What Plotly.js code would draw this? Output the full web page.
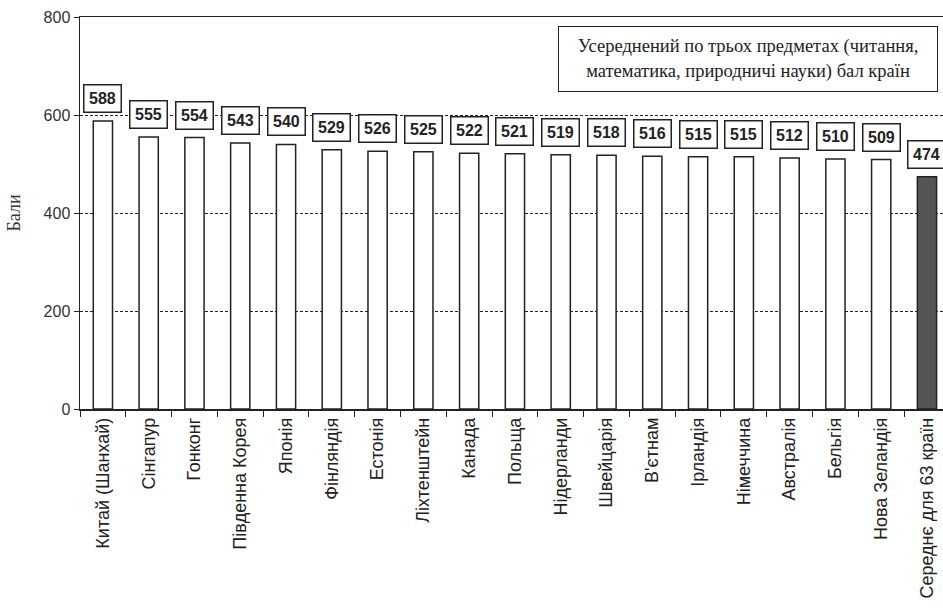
<!DOCTYPE html>
<html><head><meta charset="utf-8">
<script src="https://cdn.plot.ly/plotly-3.0.1.min.js"></script>
<style>html,body{margin:0;padding:0;background:#fff}#chart{width:943px;height:612px}</style>
</head><body><div id="chart"></div>
<script>
const categories = ["Китай (Шанхай)","Сінгапур","Гонконг","Південна Корея","Японія","Фінляндія","Естонія","Ліхтенштейн","Канада","Польща","Нідерланди","Швейцарія","В'єтнам","Ірландія","Німеччина","Австралія","Бельгія","Нова Зеландія","Середнє для 63 країн"];
const scores = [588,555,554,543,540,529,526,525,522,521,519,518,516,515,515,512,510,509,474];
const yTicks = [0,200,400,600,800];
const legendText = "Усереднений по трьох предметах (читання,<br>математика, природничі науки) бал країн";

const colors = scores.map((v,i)=> i===scores.length-1 ? "#555555" : "#ffffff");

const trace = {
  type: "bar",
  x: categories,
  y: scores,
  width: 0.42,
  marker: {color: colors, line: {color: "#222", width: 1.5}},
  hoverinfo: "skip"
};

const annotations = categories.map((c,i)=>({
  x: c, y: scores[i], xref: "x", yref: "y",
  text: "<b>" + scores[i] + "</b>",
  showarrow: false, yanchor: "bottom", yshift: 8,
  font: {family: "Liberation Sans, Arial, sans-serif", size: 16, color: "#222"},
  bgcolor: "#ffffff", bordercolor: "#222", borderwidth: 1.5, borderpad: 4.5
}));
annotations.push({
  xref: "paper", yref: "paper", x: 0.994, y: 0.977, xanchor: "right", yanchor: "top",
  text: legendText, showarrow: false, align: "center",
  width: 366, height: 52,
  font: {family: "Liberation Serif, Times New Roman, serif", size: 18.5, color: "#222"},
  bgcolor: "#ffffff", bordercolor: "#222", borderwidth: 1, borderpad: 6
});

const layout = {
  width: 943, height: 612,
  margin: {l: 80, r: 0, t: 17, b: 203},
  paper_bgcolor: "#fff", plot_bgcolor: "#fff",
  showlegend: false,
  xaxis: {
    type: "category", range: [-0.5, 18.35], automargin: false,
    showline: true, linecolor: "#222", linewidth: 1.5, mirror: true,
    ticks: "outside", tickson: "boundaries", ticklen: 6, tickcolor: "#222", tickwidth: 1,
    tickangle: -90, showgrid: false,
    tickfont: {family: "Liberation Sans, Arial, sans-serif", size: 18, color: "#222"}
  },
  yaxis: {
    range: [0, 800], tickvals: yTicks, ticktext: yTicks.map(String), automargin: false,
    showline: true, linecolor: "#222", linewidth: 1.5,
    ticks: "outside", ticklen: 5, tickcolor: "#222",
    showgrid: true, gridcolor: "#222", gridwidth: 1, griddash: "3px,2px",
    zeroline: false,
    tickfont: {family: "Liberation Sans, Arial, sans-serif", size: 16, color: "#333"},
    title: {text: "Бали", standoff: 18, font: {family: "Liberation Serif, Times New Roman, serif", size: 18, color: "#333"}}
  },
  annotations: annotations
};

Plotly.newPlot("chart", [trace], layout, {displayModeBar: false, staticPlot: true});
</script></body></html>
